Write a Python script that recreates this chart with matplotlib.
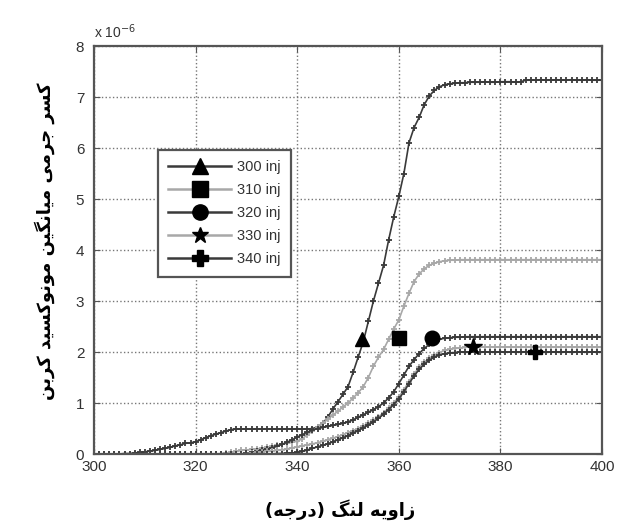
import numpy as np
import matplotlib.pyplot as plt
from matplotlib.lines import Line2D

# crank angle in degrees, one sample per degree (300..400)
crank = np.arange(300, 401)

# mean CO mass fraction, in units of 1e-6
inj300 = ([0, 0, 0, 0, 0, 0, 0.01, 0.01, 0.02, 0.03,
           0.04, 0.06, 0.07, 0.09, 0.11, 0.13, 0.16, 0.18, 0.21, 0.22,
           0.24, 0.28, 0.32, 0.36, 0.39, 0.42, 0.45, 0.48, 0.49, 0.49]
          + [0.49] * 13
          + [0.5, 0.53, 0.6, 0.72, 0.88, 1.02, 1.17,
             1.32, 1.6, 1.9, 2.2, 2.6, 3.0, 3.35, 3.7, 4.2, 4.65,
             5.05, 5.5, 6.1, 6.4, 6.6, 6.85, 7.02, 7.13, 7.2, 7.24,
             7.26, 7.27, 7.28, 7.28, 7.29, 7.29, 7.29, 7.3, 7.29, 7.29,
             7.3, 7.3, 7.3, 7.29, 7.3, 7.33, 7.33, 7.33, 7.34, 7.33,
             7.33, 7.34, 7.33, 7.33, 7.34, 7.33, 7.33, 7.34, 7.33, 7.33,
             7.33])

inj310 = ([0] * 25
          + [0.01, 0.02, 0.03, 0.05, 0.07,
             0.08, 0.09, 0.1, 0.11, 0.13, 0.15, 0.17, 0.19, 0.21, 0.23,
             0.25, 0.3, 0.38, 0.45, 0.53, 0.6, 0.68, 0.76, 0.84, 0.92,
             1.0, 1.1, 1.2, 1.32, 1.5, 1.72, 1.9, 2.05, 2.25, 2.45,
             2.63, 2.9, 3.15, 3.38, 3.53, 3.63, 3.7, 3.74, 3.77, 3.79,
             3.8, 3.8]
          + [3.81] * 29)

inj320 = ([0] * 30
          + [0.02, 0.03, 0.05, 0.07, 0.09, 0.12, 0.15, 0.19, 0.23, 0.28,
             0.33, 0.38, 0.43, 0.47, 0.5, 0.52, 0.54, 0.56, 0.58, 0.6,
             0.63, 0.67, 0.72, 0.77, 0.82, 0.87, 0.93, 1.0, 1.1, 1.22,
             1.38, 1.55, 1.72, 1.85, 1.97, 2.07, 2.15, 2.21, 2.25, 2.27,
             2.28, 2.29, 2.29]
          + [2.3] * 28)

inj330 = ([0] * 30
          + [0.01, 0.02, 0.03, 0.04, 0.05, 0.06, 0.07, 0.08, 0.1, 0.12,
             0.14, 0.16, 0.18, 0.2, 0.22, 0.25, 0.28, 0.31, 0.34, 0.38,
             0.42, 0.46, 0.5, 0.55, 0.6, 0.66, 0.73, 0.81, 0.9, 1.0,
             1.12, 1.26, 1.42, 1.57, 1.7, 1.8, 1.88, 1.94, 1.99, 2.03,
             2.05, 2.07, 2.08, 2.09]
          + [2.1] * 27)

inj340 = ([0] * 36
          + [0.01, 0.01, 0.02, 0.02,
             0.03, 0.05, 0.08, 0.11, 0.14, 0.17, 0.2, 0.24, 0.28, 0.32,
             0.36, 0.41, 0.46, 0.51, 0.57, 0.63, 0.7, 0.78, 0.87, 0.97,
             1.08, 1.22, 1.38, 1.53, 1.66, 1.76, 1.84, 1.9, 1.94, 1.97,
             1.98, 1.99]
          + [2.0] * 29)

labels = ['300 inj', '310 inj', '320 inj', '330 inj', '340 inj']
series = [inj300, inj310, inj320, inj330, inj340]
colors = ['#3a3a3a', '#a8a8a8', '#3a3a3a', '#a8a8a8', '#3a3a3a']
id_markers = ['^', 's', 'o', '*', 'P']

# big black markers placed next to each curve to tell them apart
id_x = [352.7, 360.0, 366.6, 374.7, 386.8]
id_y = [2.26, 2.27, 2.27, 2.09, 2.01]

xlabel_fa = 'زاویه لنگ (درجه)'
ylabel_fa = 'کسر جرمی میانگین مونوکسید کربن'

# matplotlib does not join arabic letters, so pick the presentation forms by hand
# (isolated, final, initial, medial)
FORMS = {
    'ا': ('\uFE8D', '\uFE8E', None, None),
    'ب': ('\uFE8F', '\uFE90', '\uFE91', '\uFE92'),
    'ج': ('\uFE9D', '\uFE9E', '\uFE9F', '\uFEA0'),
    'د': ('\uFEA9', '\uFEAA', None, None),
    'ر': ('\uFEAD', '\uFEAE', None, None),
    'ز': ('\uFEAF', '\uFEB0', None, None),
    'س': ('\uFEB1', '\uFEB2', '\uFEB3', '\uFEB4'),
    'ل': ('\uFEDD', '\uFEDE', '\uFEDF', '\uFEE0'),
    'م': ('\uFEE1', '\uFEE2', '\uFEE3', '\uFEE4'),
    'ن': ('\uFEE5', '\uFEE6', '\uFEE7', '\uFEE8'),
    'ه': ('\uFEE9', '\uFEEA', '\uFEEB', '\uFEEC'),
    'و': ('\uFEED', '\uFEEE', None, None),
    'ی': ('\uFBFC', '\uFBFD', '\uFBFE', '\uFBFF'),
    'ک': ('\uFB8E', '\uFB8F', '\uFB90', '\uFB91'),
    'گ': ('\uFB92', '\uFB93', '\uFB94', '\uFB95'),
}
RIGHT_ONLY = set('ادذرزژو')


def shape(text):
    out = []
    for i, ch in enumerate(text):
        if ch not in FORMS:
            out.append(ch)
            continue
        prev = text[i - 1] if i > 0 else ''
        nxt = text[i + 1] if i + 1 < len(text) else ''
        join_prev = prev in FORMS and prev not in RIGHT_ONLY
        join_next = ch not in RIGHT_ONLY and nxt in FORMS
        iso, fin, ini, med = FORMS[ch]
        if join_prev and join_next:
            out.append(med)
        elif join_prev:
            out.append(fin)
        elif join_next:
            out.append(ini)
        else:
            out.append(iso)
    # right-to-left: reverse and mirror brackets
    vis = ''.join(reversed(out))
    return vis.translate(str.maketrans('()', ')('))


plt.rcParams['font.family'] = ['Liberation Sans', 'DejaVu Sans']

fig = plt.figure(figsize=(6.17, 5.23), dpi=100)
ax = fig.add_axes([0.1524, 0.1319, 0.8233, 0.7801])

for vals, col in zip(series, colors):
    ax.plot(crank, vals, color=col, lw=1.2, marker='+', ms=4.5, mew=1.3)

for xm, ym, m in zip(id_x, id_y, id_markers):
    ms = 13 if m == '*' else 10.5
    ax.plot(xm, ym, linestyle='none', marker=m, ms=ms, color='k')

ax.set_xlim(300, 400)
ax.set_ylim(0, 8)
ax.set_xticks(range(300, 401, 20))
ax.set_yticks(range(0, 9))
ax.grid(True, linestyle=':', color='#777777', lw=1.0)
ax.tick_params(direction='in', top=True, right=True, length=4,
               labelsize=11, labelcolor='#333333', color='#555555')
ax.tick_params(axis='x', pad=4)
ax.tick_params(axis='y', pad=7)
for sp in ax.spines.values():
    sp.set_color('#555555')
    sp.set_linewidth(1.6)

ax.text(0.0, 1.012, 'x 10$^{-6}$', transform=ax.transAxes, fontsize=10,
        color='#333333', ha='left', va='bottom')

handles = [Line2D([], [], color=c, lw=1.8, marker=m, ms=11 if m != '*' else 12,
                  mfc='k', mec='k') for c, m in zip(colors, id_markers)]
leg = ax.legend(handles, labels, loc='upper left', bbox_to_anchor=(0.126, 0.745),
                borderaxespad=0, fontsize=10.5, handlelength=4.3, labelspacing=0.62,
                borderpad=0.7, fancybox=False, framealpha=1, handletextpad=0.4)
leg.get_frame().set_edgecolor('#555555')
leg.get_frame().set_linewidth(1.6)
for t in leg.get_texts():
    t.set_color('#333333')

fig.text(0.551, 0.025, shape(xlabel_fa), family='DejaVu Sans', weight='bold',
         fontsize=13, ha='center', va='center')
fig.text(0.073, 0.539, shape(ylabel_fa), family='DejaVu Sans', weight='bold',
         fontsize=13, rotation=90, ha='center', va='center')

fig.savefig('out.png', dpi=100)
